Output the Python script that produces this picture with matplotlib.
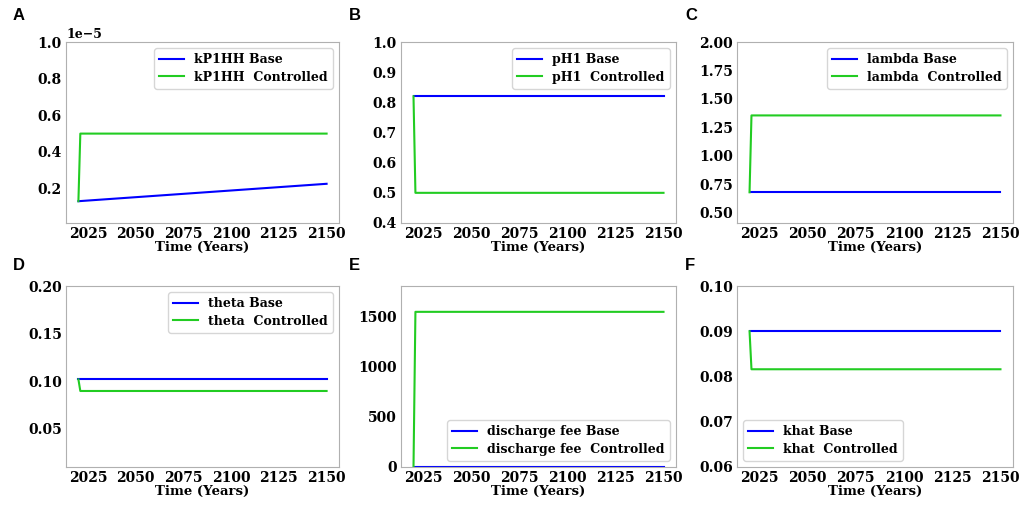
import matplotlib
matplotlib.use('Agg')
import matplotlib.pyplot as plt
import numpy as np

# yearly time axis of the simulation
years = np.arange(2020, 2151)

PANELS = ['A', 'B', 'C', 'D', 'E', 'F']
NAMES = ['kP1HH', 'pH1', 'lambda', 'theta', 'discharge fee', 'khat']

# base runs: start / end values (kP1HH grows, the others stay flat)
base_start = [0.131e-5, 0.82, 0.68, 0.102, 2.0, 0.09]
base_end = [0.226e-5, 0.82, 0.68, 0.102, 2.0, 0.09]

# controlled runs: value in the first year, then the controlled level
ctrl_start = [0.131e-5, 0.82, 0.68, 0.102, 0.0, 0.09]
ctrl_level = [0.5e-5, 0.5, 1.355, 0.0898, 1543.0, 0.0816]

y_limits = [(0.012e-5, 1.0e-5), (0.4, 1.0), (0.41, 2.0), (0.01, 0.2), (0, 1800), (0.06, 0.10)]
y_ticks = [[0.2e-5, 0.4e-5, 0.6e-5, 0.8e-5, 1.0e-5],
           [0.4, 0.5, 0.6, 0.7, 0.8, 0.9, 1.0],
           [0.5, 0.75, 1.0, 1.25, 1.5, 1.75, 2.0],
           [0.05, 0.10, 0.15, 0.20],
           [0, 500, 1000, 1500],
           [0.06, 0.07, 0.08, 0.09, 0.10]]
legend_loc = ['upper right', 'upper right', 'upper right', 'upper right', 'lower right', 'lower left']

plt.rcParams['font.family'] = 'DejaVu Serif'
plt.rcParams['font.weight'] = 'bold'
plt.rcParams['font.size'] = 10

fig = plt.figure(figsize=(10.21, 5.12), dpi=100)
W, H = 1021.0, 512.0
lefts = [66, 401, 737]
rights = [339, 676, 1013]
tops = [42, 286]
bottoms = [223, 467]
letter_x = [13, 349, 685]
letter_y = [8, 258]

for i in range(6):
    r, c = divmod(i, 3)
    ax = fig.add_axes([lefts[c] / W, 1 - bottoms[r] / H,
                       (rights[c] - lefts[c]) / W, (bottoms[r] - tops[r]) / H])

    # base: straight line from start to end value
    base = base_start[i] + (base_end[i] - base_start[i]) * (years - years[0]) / (years[-1] - years[0])
    ctrl = np.full(len(years), ctrl_level[i])
    ctrl[0] = ctrl_start[i]

    ax.plot(years, base, color='blue', lw=1.5, label=NAMES[i] + ' Base')
    ax.plot(years, ctrl, color='#22cc22', lw=1.5, label=NAMES[i] + '  Controlled')

    ax.set_ylim(*y_limits[i])
    ax.set_yticks(y_ticks[i])
    ax.set_xticks([2025, 2050, 2075, 2100, 2125, 2150])
    ax.set_xlabel('Time (Years)', fontweight='bold', fontsize=9.5, labelpad=0)
    ax.tick_params(length=0, pad=3)
    for sp in ax.spines.values():
        sp.set_color('#b0b0b0')
    if i == 0:
        ax.ticklabel_format(axis='y', style='sci', scilimits=(0, 0), useMathText=False)
        ax.yaxis.get_offset_text().set_fontweight('bold')
        ax.yaxis.get_offset_text().set_fontsize(9)
    elif i in (2, 3, 5):
        ax.yaxis.set_major_formatter(matplotlib.ticker.FormatStrFormatter('%.2f'))
    ax.legend(loc=legend_loc[i], prop={'weight': 'bold', 'size': 9},
              handlelength=2.0, borderpad=0.4, labelspacing=0.35)

    fig.text(letter_x[c] / W, 1 - letter_y[r] / H, PANELS[i], family='Liberation Sans',
             fontweight='bold', fontsize=12, va='top', ha='left')

fig.savefig('out.png', dpi=100)
